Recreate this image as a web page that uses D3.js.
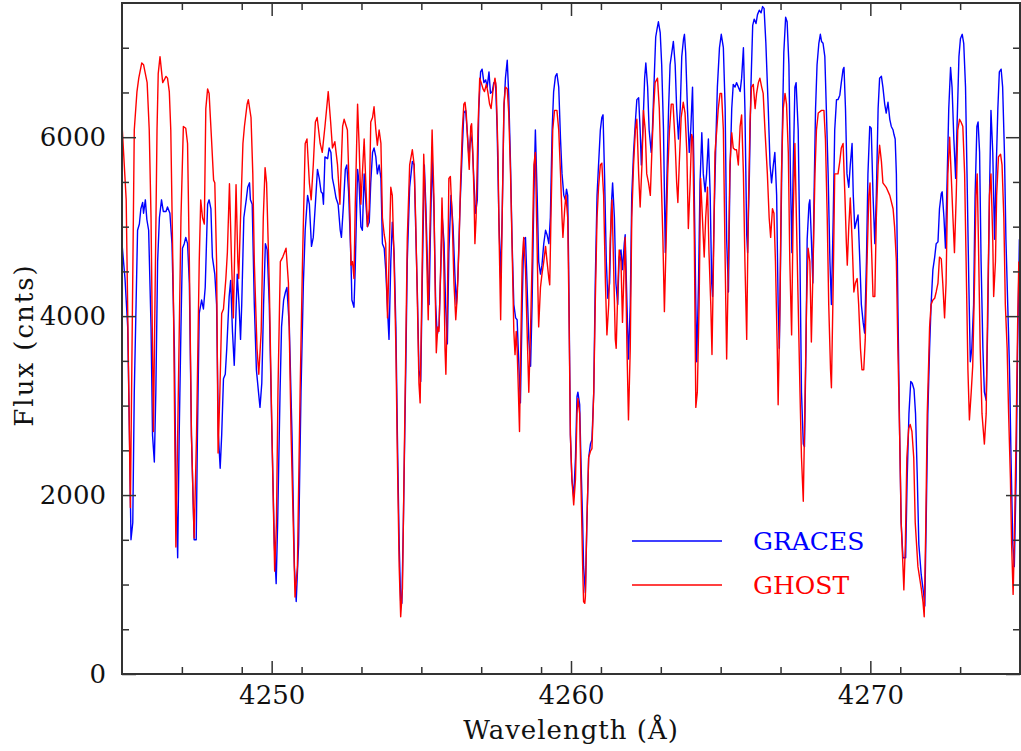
<!DOCTYPE html>
<html>
<head>
<meta charset="utf-8">
<script src="https://cdn.jsdelivr.net/npm/d3@7"></script>
<style>
body { margin: 0; background: #fff; }
svg text { font-family: "DejaVu Serif", serif; }
</style>
</head>
<body>
<div id="chart"></div>
<script>
// wavelength (A), flux (cnts)
var graces = [
[4245.00,4810],[4245.10,4420],[4245.19,3880],[4245.25,2670],[4245.30,1500],[4245.36,1690],[4245.41,3150],[4245.47,4130],[4245.52,4960],[4245.58,5030],[4245.63,5200],[4245.69,5270],[4245.72,5150],[4245.78,5300],[4245.83,5080],[4245.89,4960],[4245.97,3880],[4246.02,2670],[4246.08,2370],[4246.13,3150],[4246.19,4610],[4246.25,5100],[4246.32,5300],[4246.38,5170],[4246.47,5170],[4246.52,5220],[4246.60,5150],[4246.67,4810],[4246.75,3640],[4246.80,2180],[4246.86,1300],[4246.91,2670],[4246.97,3880],[4247.02,4760],[4247.08,4810],[4247.13,4880],[4247.19,4810],[4247.25,4370],[4247.32,2670],[4247.41,1500],[4247.48,1500],[4247.52,2670],[4247.58,4030],[4247.66,4180],[4247.72,4080],[4247.78,4320],[4247.86,5250],[4247.91,5300],[4247.97,5200],[4248.02,4660],[4248.10,4470],[4248.16,4130],[4248.22,2670],[4248.28,2300],[4248.33,2670],[4248.39,3300],[4248.45,3350],[4248.50,3640],[4248.58,4220],[4248.63,4400],[4248.69,3830],[4248.75,3450],
[4248.85,4470],[4248.91,4130],[4248.96,3740],[4249.00,4130],[4249.07,5100],[4249.15,5300],[4249.20,5440],[4249.26,5490],[4249.29,5300],[4249.35,5250],[4249.42,4130],[4249.49,3400],[4249.56,3150],[4249.61,2980],[4249.67,3250],[4249.73,4130],[4249.79,4810],[4249.85,4740],[4249.92,4130],[4250.01,2670],[4250.09,1450],[4250.15,1010],[4250.20,1690],[4250.28,3150],[4250.33,3880],[4250.40,4180],[4250.46,4270],[4250.51,4320],[4250.59,3880],[4250.68,2670],[4250.76,1200],[4250.82,810],[4250.90,1450],[4250.98,3150],[4251.06,4370],[4251.12,4960],[4251.20,5350],[4251.26,5250],[4251.33,4780],[4251.39,4880],[4251.46,5250],[4251.53,5640],[4251.59,5540],[4251.65,5390],[4251.70,5370],[4251.73,5250],[4251.78,5780],[4251.87,5760],[4251.92,5880],[4251.98,5830],[4252.03,5540],[4252.09,5440],[4252.15,5320],[4252.22,5250],[4252.29,4960],[4252.33,4880],[4252.40,5250],[4252.46,5640],[4252.51,5690],[4252.57,5390],[4252.65,4610],
[4252.68,4180],[4252.75,4100],[4252.79,4520],[4252.87,5640],[4252.92,5490],[4252.98,5000],[4253.03,4960],[4253.09,5590],[4253.15,5250],[4253.20,5000],[4253.26,5050],[4253.31,5490],[4253.37,5830],[4253.42,5880],[4253.48,5780],[4253.53,5590],[4253.59,5690],[4253.65,5540],[4253.70,4810],[4253.76,4760],[4253.81,4520],[4253.87,4080],[4253.92,3740],[4253.98,4610],[4254.03,5050],[4254.09,4710],[4254.15,3880],[4254.20,2670],[4254.26,1450],[4254.31,810],[4254.35,790],[4254.40,1690],[4254.48,3400],[4254.53,4610],[4254.61,5440],[4254.70,5730],[4254.76,5690],[4254.81,5000],[4254.87,4220],[4254.92,3400],[4254.98,3270],[4255.03,4370],[4255.10,5690],[4255.15,5250],[4255.21,4520],[4255.26,4130],[4255.30,4860],[4255.36,5780],[4255.42,5200],[4255.48,4130],[4255.53,3790],[4255.59,3880],[4255.65,4520],[4255.70,5100],[4255.76,4810],[4255.81,4130],[4255.87,3690],[4255.92,4710],[4255.99,5350],[4256.06,5000],[4256.12,4470],[4256.17,4130],[4256.22,4420],[4256.29,5200],[4256.37,5880],[4256.42,6270],[4256.48,6300],[4256.53,6080],[4256.59,5780],
[4256.65,6030],[4256.70,5930],[4256.76,5490],[4256.81,5150],[4256.87,5300],[4256.92,6320],[4256.98,6730],[4257.03,6760],[4257.09,6610],[4257.15,6640],[4257.20,6560],[4257.26,6730],[4257.31,6490],[4257.37,6510],[4257.42,6610],[4257.48,6610],[4257.53,6120],[4257.59,5100],[4257.65,4420],[4257.70,5100],[4257.76,6320],[4257.81,6660],[4257.87,6860],[4257.92,6470],[4257.98,5690],[4258.03,4860],[4258.09,4130],[4258.15,3980],[4258.20,3960],[4258.26,3440],[4258.31,3030],[4258.37,4130],[4258.42,4860],[4258.48,4880],[4258.53,4370],[4258.59,3740],[4258.65,3440],[4258.70,4130],[4258.76,5350],[4258.81,6080],[4258.87,5350],[4258.92,4610],[4258.98,4470],[4259.03,4570],[4259.09,4810],[4259.15,4960],[4259.20,4910],[4259.26,4810],[4259.31,5100],[4259.37,6080],[4259.42,6510],[4259.48,6680],[4259.53,6710],[4259.59,6560],[4259.65,5980],[4259.70,5590],[4259.76,5350],[4259.81,5300],[4259.85,5420],[4259.89,5350],[4259.92,4610],[4259.98,2670],[4260.03,2180],[4260.09,1980],[4260.15,2420],[4260.20,3100],[4260.23,3150],[4260.29,3010],[4260.33,2420],[4260.39,1690],
[4260.42,1200],[4260.48,910],[4260.53,1690],[4260.59,2420],[4260.65,2570],[4260.70,2620],[4260.76,3150],[4260.81,4370],[4260.87,5350],[4260.92,5690],[4260.98,6080],[4261.03,6220],[4261.07,6250],[4261.12,5590],[4261.18,4610],[4261.23,4200],[4261.29,4370],[4261.35,5250],[4261.39,5490],[4261.45,5100],[4261.50,4370],[4261.56,4130],[4261.61,4660],[4261.67,4740],[4261.72,4520],[4261.78,4810],[4261.81,4910],[4261.87,4130],[4261.92,3520],[4261.98,4130],[4262.03,5350],[4262.09,5830],[4262.15,6170],[4262.20,6420],[4262.26,6440],[4262.31,6080],[4262.35,5690],[4262.40,6080],[4262.46,6660],[4262.50,6830],[4262.56,6560],[4262.61,6080],[4262.68,5830],[4262.72,6080],[4262.78,6660],[4262.83,7120],[4262.88,7220],[4262.92,7290],[4262.98,7170],[4263.03,6810],[4263.09,6080],[4263.15,4710],[4263.20,5490],[4263.26,6320],[4263.31,6810],[4263.37,6950],[4263.42,7070],[4263.48,6810],[4263.53,6320],[4263.59,5980],[4263.65,6320],[4263.70,6900],[4263.76,7100],[4263.79,7150],[4263.83,6950],[4263.89,6320],[4263.95,5830],[4264.00,6080],[4264.06,6560],[4264.11,5590],[4264.17,4130],[4264.20,3490],
[4264.26,4370],[4264.31,5490],[4264.37,6050],[4264.42,5590],[4264.48,5390],[4264.53,5590],[4264.59,5980],[4264.65,5350],[4264.70,4370],[4264.73,4220],[4264.78,5100],[4264.85,6080],[4264.89,6560],[4264.96,7000],[4265.02,7150],[4265.09,7000],[4265.15,6320],[4265.20,4860],[4265.26,4270],[4265.31,5590],[4265.37,6320],[4265.42,6590],[4265.48,6560],[4265.53,6610],[4265.59,6560],[4265.65,6510],[4265.70,6660],[4265.76,7000],[4265.81,6320],[4265.87,4910],[4265.90,4710],[4265.96,5590],[4266.01,6560],[4266.07,7250],[4266.12,7320],[4266.18,7270],[4266.23,7370],[4266.29,7420],[4266.35,7390],[4266.40,7460],[4266.45,7440],[4266.51,7050],[4266.59,6320],[4266.65,5690],[4266.70,5490],[4266.76,5690],[4266.81,5830],[4266.87,5350],[4266.92,4130],[4266.96,3640],[4267.00,4610],[4267.06,6080],[4267.11,6950],[4267.17,7340],[4267.22,7290],[4267.28,6810],[4267.33,5590],[4267.38,4710],[4267.42,5590],[4267.48,6560],[4267.52,6610],[4267.59,6080],[4267.65,4610],[4267.70,3150],[4267.76,2570],[4267.80,2540],[4267.85,3640],[4267.89,4860],[4267.95,5250],
[4267.98,5300],[4268.03,4860],[4268.08,4370],[4268.12,5350],[4268.17,6320],[4268.22,6810],[4268.28,7050],[4268.33,7150],[4268.37,7070],[4268.42,7050],[4268.48,6900],[4268.53,6320],[4268.59,5590],[4268.65,4610],[4268.70,4130],[4268.76,5100],[4268.81,6080],[4268.87,6420],[4268.92,6420],[4268.98,6470],[4269.03,6610],[4269.09,6760],[4269.12,6780],[4269.17,6320],[4269.22,5590],[4269.28,5440],[4269.33,5690],[4269.39,5930],[4269.43,5350],[4269.48,4980],[4269.53,5050],[4269.59,5130],[4269.65,4610],[4269.70,4130],[4269.76,3930],[4269.81,3810],[4269.87,4610],[4269.92,5590],[4269.98,6120],[4270.03,6100],[4270.09,5350],[4270.15,4810],[4270.20,5350],[4270.26,6320],[4270.31,6660],[4270.37,6680],[4270.42,6560],[4270.48,6370],[4270.53,6270],[4270.59,6390],[4270.65,6200],[4270.70,6120],[4270.76,6080],[4270.79,6030],[4270.83,5980],[4270.87,5590],[4270.92,4130],[4270.98,2670],[4271.03,1690],[4271.09,1300],[4271.18,1300],[4271.23,2180],[4271.29,2910],[4271.35,3270],[4271.40,3250],[4271.46,3180],[4271.51,2910],[4271.57,2180],[4271.62,1450],[4271.70,1110],[4271.78,900],[4271.82,760],[4271.87,1800],[4271.92,2900],
[4271.98,3640],[4272.03,4130],[4272.09,4520],[4272.15,4660],[4272.20,4810],[4272.26,4830],[4272.31,5200],[4272.37,5370],[4272.40,5390],[4272.46,5100],[4272.51,4760],[4272.57,5590],[4272.62,6320],[4272.68,6780],[4272.73,6560],[4272.79,5980],[4272.85,5540],[4272.90,6170],[4272.96,6900],[4273.01,7100],[4273.07,7150],[4273.12,7050],[4273.18,6560],[4273.23,5590],[4273.29,4370],[4273.34,3490],[4273.39,3640],[4273.45,4130],[4273.50,5350],[4273.56,6120],[4273.60,6170],[4273.65,5830],[4273.70,4610],[4273.76,3640],[4273.81,3150],[4273.87,3060],[4273.92,3880],[4273.98,5350],[4274.03,6300],[4274.09,5830],[4274.15,4860],[4274.20,5590],[4274.26,6320],[4274.31,6730],[4274.37,6760],[4274.42,6560],[4274.48,5830],[4274.53,4860],[4274.59,4130],[4274.65,3400],[4274.70,2420],[4274.76,1450],[4274.81,1200],[4274.87,2180],[4274.92,3640],[4274.98,4860]
];

var ghost = [
[4245.00,6150],[4245.14,5300],[4245.28,1860],[4245.41,6080],[4245.50,6510],[4245.56,6660],[4245.66,6830],[4245.72,6810],[4245.84,6610],[4245.91,6080],[4245.97,5100],[4246.05,2710],[4246.17,6080],[4246.21,6710],[4246.27,6900],[4246.36,6610],[4246.41,6640],[4246.47,6680],[4246.52,6660],[4246.58,6510],[4246.63,6080],[4246.72,4130],[4246.80,1420],[4246.86,2670],[4246.97,5100],[4247.05,6120],[4247.13,6100],[4247.19,5930],[4247.25,4610],[4247.32,2670],[4247.41,1520],[4247.49,2670],[4247.58,4610],[4247.63,5300],[4247.69,5100],[4247.75,5030],[4247.80,6320],[4247.86,6540],[4247.91,6490],[4247.99,5980],[4248.06,5520],[4248.10,5490],[4248.16,4610],[4248.21,2470],[4248.27,3150],[4248.33,4030],[4248.39,4080],[4248.47,4420],[4248.52,4710],[4248.59,5480],[4248.66,4610],[4248.72,3980],
[4248.81,5470],[4248.87,4610],[4248.90,4420],[4248.96,5100],[4249.04,5930],[4249.09,6120],[4249.18,6370],[4249.22,6420],[4249.31,6220],[4249.37,5590],[4249.42,4610],[4249.51,3640],[4249.57,3350],[4249.65,3830],[4249.72,5100],[4249.78,5660],[4249.83,5490],[4249.92,4370],[4250.01,2670],[4250.10,1150],[4250.16,1690],[4250.21,3150],[4250.29,4610],[4250.37,4660],[4250.48,4760],[4250.56,4370],[4250.65,2670],[4250.78,860],[4250.86,1200],[4250.95,3150],[4251.03,4610],[4251.12,5930],[4251.18,5980],[4251.26,5490],[4251.32,5300],[4251.39,5690],[4251.46,6170],[4251.52,6220],[4251.62,5930],[4251.69,5830],[4251.78,6120],[4251.89,6510],[4251.97,6170],[4252.03,5880],[4252.11,5950],[4252.20,5690],[4252.28,5250],[4252.37,6120],[4252.42,6200],[4252.53,6080],[4252.62,5100],
[4252.65,4570],[4252.70,4610],[4252.75,4420],[4252.79,5200],[4252.87,6370],[4252.92,5930],[4252.98,5250],[4253.03,5590],[4253.09,5980],[4253.15,5440],[4253.20,5000],[4253.26,5200],[4253.31,6170],[4253.37,6220],[4253.42,6340],[4253.48,6080],[4253.53,5910],[4253.59,6080],[4253.65,5930],[4253.70,5100],[4253.76,4910],[4253.81,4810],[4253.87,3980],[4253.92,4610],[4253.98,5440],[4254.03,5350],[4254.09,4610],[4254.15,3640],[4254.20,2420],[4254.26,1200],[4254.31,640],[4254.37,960],[4254.42,2180],[4254.48,3640],[4254.53,4860],[4254.61,5690],[4254.70,5860],[4254.76,5690],[4254.81,5100],[4254.87,4130],[4254.92,3250],[4254.96,3030],[4255.01,4130],[4255.08,5810],[4255.15,5100],[4255.20,4370],[4255.23,3960],[4255.28,4860],[4255.36,6080],[4255.42,5350],[4255.46,4370],[4255.50,3590],[4255.55,3880],[4255.59,3830],[4255.65,4610],[4255.69,5320],[4255.75,4610],[4255.79,3640],[4255.82,3350],[4255.87,4130],[4255.92,5540],[4255.97,5560],[4256.03,5100],[4256.09,4370],[4256.15,3960],[4256.20,4220],[4256.26,4810],[4256.31,5490],[4256.37,6080],[4256.42,6370],[4256.46,6390],[4256.50,6270],[4256.56,5880],
[4256.60,5640],[4256.65,6120],[4256.68,6150],[4256.72,5830],[4256.76,5350],[4256.79,4810],[4256.83,5100],[4256.89,6080],[4256.95,6660],[4257.00,6610],[4257.06,6540],[4257.11,6510],[4257.17,6590],[4257.22,6510],[4257.28,6370],[4257.33,6320],[4257.39,6510],[4257.46,6660],[4257.50,6560],[4257.56,5830],[4257.60,4860],[4257.65,3960],[4257.70,5100],[4257.76,6370],[4257.81,6560],[4257.87,6540],[4257.92,6270],[4257.98,5590],[4258.03,4810],[4258.09,3830],[4258.13,3570],[4258.17,3830],[4258.20,3640],[4258.23,3300],[4258.28,2710],[4258.32,3640],[4258.37,4610],[4258.42,4880],[4258.48,4520],[4258.53,3880],[4258.59,3150],[4258.65,3880],[4258.70,4610],[4258.76,5690],[4258.81,5830],[4258.85,5100],[4258.89,4370],[4258.92,3880],[4258.98,4320],[4259.03,4470],[4259.09,4610],[4259.15,4780],[4259.20,4610],[4259.26,4420],[4259.29,4350],[4259.33,5100],[4259.39,6080],[4259.45,6300],[4259.53,6300],[4259.59,6080],[4259.65,5590],[4259.70,5100],[4259.73,4880],[4259.79,5200],[4259.83,5350],[4259.89,5100],[4259.93,4130],[4259.98,2670],[4260.03,2180],[4260.09,1890],[4260.15,2180],[4260.20,2910],[4260.23,3080],[4260.29,2910],[4260.33,2180],[4260.39,1200],
[4260.42,810],[4260.46,790],[4260.48,860],[4260.53,1690],[4260.59,2420],[4260.65,2490],[4260.70,2520],[4260.76,3150],[4260.81,4130],[4260.87,5100],[4260.92,5440],[4260.98,5690],[4261.03,5710],[4261.09,5350],[4261.15,4370],[4261.20,3790],[4261.26,4130],[4261.31,4860],[4261.37,5300],[4261.42,4610],[4261.48,3740],[4261.51,3640],[4261.57,4370],[4261.61,4740],[4261.67,4610],[4261.72,3930],[4261.78,4610],[4261.81,4880],[4261.87,3640],[4261.92,2840],[4261.98,3640],[4262.03,5100],[4262.09,5690],[4262.15,6080],[4262.20,6200],[4262.26,5590],[4262.31,5220],[4262.37,5690],[4262.42,6300],[4262.48,6080],[4262.53,5590],[4262.59,5490],[4262.65,5350],[4262.70,5830],[4262.76,6320],[4262.81,6610],[4262.89,6660],[4262.95,6320],[4263.01,5590],[4263.07,4860],[4263.12,4050],[4263.18,4860],[4263.23,5590],[4263.29,6080],[4263.35,6370],[4263.41,6370],[4263.48,5930],[4263.53,5490],[4263.57,5270],[4263.62,5730],[4263.68,6220],[4263.75,6390],[4263.81,6270],[4263.87,5830],[4263.92,4980],[4263.98,5490],[4264.03,6030],[4264.07,5980],[4264.12,4860],[4264.17,2980],[4264.22,3150],
[4264.28,4130],[4264.33,5540],[4264.39,5100],[4264.45,4660],[4264.50,5100],[4264.56,5440],[4264.61,4710],[4264.67,4130],[4264.71,3570],[4264.76,4610],[4264.81,5830],[4264.87,6080],[4264.92,6320],[4264.98,6490],[4265.03,6490],[4265.09,6080],[4265.15,4610],[4265.20,3520],[4265.26,4610],[4265.31,5690],[4265.37,6050],[4265.42,5880],[4265.48,5860],[4265.53,5860],[4265.59,5690],[4265.65,6120],[4265.70,6250],[4265.76,5590],[4265.81,4610],[4265.87,3740],[4265.92,5100],[4265.98,6170],[4266.03,6560],[4266.09,6590],[4266.15,6320],[4266.20,6490],[4266.26,6610],[4266.31,6660],[4266.37,6560],[4266.42,6490],[4266.48,6080],[4266.56,5590],[4266.62,5100],[4266.67,4880],[4266.73,5200],[4266.78,5150],[4266.83,4610],[4266.89,3640],[4266.92,3010],[4266.98,4130],[4267.03,5590],[4267.09,6320],[4267.15,6490],[4267.20,6370],[4267.26,5830],[4267.31,4610],[4267.37,3790],[4267.42,5100],[4267.48,5930],[4267.53,5100],[4267.59,4130],[4267.65,3150],[4267.70,2420],[4267.76,1930],[4267.81,2910],[4267.87,4130],[4267.92,4760],[4267.98,4610],
[4268.03,3710],[4268.09,4610],[4268.15,5590],[4268.20,6080],[4268.26,6270],[4268.37,6300],[4268.45,6300],[4268.50,5980],[4268.56,5100],[4268.61,4130],[4268.67,3400],[4268.70,3200],[4268.76,4370],[4268.81,5590],[4268.92,5590],[4268.98,5730],[4269.03,5880],[4269.09,5930],[4269.15,5350],[4269.20,4810],[4269.23,4570],[4269.28,5000],[4269.33,5320],[4269.39,4860],[4269.45,4270],[4269.50,4370],[4269.56,4420],[4269.61,4130],[4269.67,3640],[4269.72,3400],[4269.78,3400],[4269.83,3740],[4269.89,4610],[4269.95,5350],[4269.99,5490],[4270.03,4860],[4270.09,4220],[4270.15,4220],[4270.20,5100],[4270.26,5690],[4270.31,5910],[4270.37,5730],[4270.42,5490],[4270.53,5440],[4270.65,5350],[4270.76,5200],[4270.81,5000],[4270.87,4610],[4270.92,3640],[4270.98,2670],[4271.03,1690],[4271.09,1200],[4271.12,940],[4271.17,1450],[4271.22,2420],[4271.28,2740],[4271.33,2790],[4271.39,2710],[4271.45,2420],[4271.50,1690],[4271.59,1200],[4271.70,960],[4271.76,800],[4271.80,640],[4271.85,1600],[4271.90,2900],[4271.95,3500],
[4271.98,3880],[4272.03,4130],[4272.09,4180],[4272.15,4200],[4272.20,4270],[4272.26,4370],[4272.31,4660],[4272.37,4640],[4272.42,4370],[4272.48,3980],[4272.53,4370],[4272.59,5590],[4272.65,6000],[4272.70,5590],[4272.76,5100],[4272.81,4710],[4272.87,5350],[4272.92,6080],[4272.98,6200],[4273.03,6170],[4273.09,6120],[4273.15,5590],[4273.20,4610],[4273.26,3400],[4273.31,2840],[4273.37,3150],[4273.42,3440],[4273.48,4370],[4273.53,5350],[4273.57,5590],[4273.61,4860],[4273.67,3640],[4273.73,2910],[4273.81,2570],[4273.87,2910],[4273.92,4130],[4273.98,5350],[4274.03,5590],[4274.09,4860],[4274.12,4220],[4274.18,4610],[4274.22,5350],[4274.28,5780],[4274.35,5810],[4274.40,5690],[4274.46,5100],[4274.51,4130],[4274.57,3640],[4274.62,2910],[4274.68,2180],[4274.72,1450],[4274.77,890],[4274.81,1450],[4274.87,2670],[4274.92,3880],[4274.96,4610]
];

var xMajor = [4250, 4260, 4270];
var xMinor = [4247, 4249, 4251, 4253, 4255, 4257, 4259, 4261, 4263, 4265, 4267, 4269, 4271, 4273];
var yMajor = [0, 2000, 4000, 6000];
var yMinor = [500, 1000, 1500, 2500, 3000, 3500, 4500, 5000, 5500, 6500, 7000];
var seriesNames = ["GRACES", "GHOST"];
var seriesColors = ["#0000ff", "#ff0000"];

var W = 1021, H = 751;
var pLeft = 122, pRight = 1020, pTop = 3, pBottom = 674;

var svg = d3.select("#chart").append("svg")
	.attr("width", W)
	.attr("height", H);

var xScale = d3.scaleLinear()
	.domain([4245, 4275])
	.range([pLeft, pRight]);
var yScale = d3.scaleLinear()
	.domain([0, 7500])
	.range([pBottom, pTop]);

svg.append("clipPath").attr("id", "plotclip")
	.append("rect")
	.attr("x", pLeft).attr("y", pTop)
	.attr("width", pRight - pLeft).attr("height", pBottom - pTop);

var line = d3.line()
	.x(function(d) { return xScale(d[0]); })
	.y(function(d) { return yScale(d[1]); });

var plot = svg.append("g").attr("clip-path", "url(#plotclip)");
[graces, ghost].forEach(function(s, i) {
	plot.append("path")
		.datum(s)
		.attr("fill", "none")
		.attr("stroke", seriesColors[i])
		.attr("stroke-width", 1.4)
		.attr("stroke-linejoin", "round")
		.attr("d", line);
});

// ticks point inward on all four sides
function addAxis(axis, tx, ty) {
	var g = svg.append("g")
		.attr("transform", "translate(" + tx + "," + ty + ")")
		.call(axis);
	g.select(".domain").remove();
	g.selectAll(".tick line").attr("stroke", "#333").attr("stroke-width", 1.5);
	g.selectAll("text")
		.attr("fill", "#111")
		.style("font-family", "'DejaVu Serif', serif")
		.style("font-size", "26px");
	return g;
}

addAxis(d3.axisBottom(xScale).tickValues(xMajor).tickSizeInner(-13).tickSizeOuter(0).tickPadding(12).tickFormat(d3.format("d")), 0, pBottom);
addAxis(d3.axisBottom(xScale).tickValues(xMinor).tickSizeInner(-7).tickSizeOuter(0).tickFormat(""), 0, pBottom);
addAxis(d3.axisTop(xScale).tickValues(xMajor).tickSizeInner(-13).tickSizeOuter(0).tickFormat(""), 0, pTop);
addAxis(d3.axisTop(xScale).tickValues(xMinor).tickSizeInner(-7).tickSizeOuter(0).tickFormat(""), 0, pTop);

addAxis(d3.axisLeft(yScale).tickValues(yMajor).tickSizeInner(-14).tickSizeOuter(0).tickPadding(16).tickFormat(d3.format("d")), pLeft, 0);
addAxis(d3.axisLeft(yScale).tickValues(yMinor).tickSizeInner(-7).tickSizeOuter(0).tickFormat(""), pLeft, 0);
addAxis(d3.axisRight(yScale).tickValues(yMajor).tickSizeInner(-14).tickSizeOuter(0).tickFormat(""), pRight, 0);
addAxis(d3.axisRight(yScale).tickValues(yMinor).tickSizeInner(-7).tickSizeOuter(0).tickFormat(""), pRight, 0);

svg.append("rect")
	.attr("x", pLeft).attr("y", pTop)
	.attr("width", pRight - pLeft).attr("height", pBottom - pTop)
	.attr("fill", "none")
	.attr("stroke", "#333")
	.attr("stroke-width", 2);

svg.append("text")
	.attr("x", (pLeft + pRight) / 2)
	.attr("y", 739)
	.attr("text-anchor", "middle")
	.attr("fill", "#111")
	.style("font-size", "26px")
	.style("letter-spacing", "1px")
	.text("Wavelength (Å)");

svg.append("text")
	.attr("transform", "translate(33,345) rotate(-90)")
	.attr("text-anchor", "middle")
	.attr("fill", "#111")
	.style("font-size", "26px")
	.style("letter-spacing", "2px")
	.text("Flux (cnts)");

var legend = svg.append("g");
seriesNames.forEach(function(name, i) {
	var ly = 541 + i * 44;
	legend.append("line")
		.attr("x1", 632).attr("x2", 722)
		.attr("y1", ly).attr("y2", ly)
		.attr("stroke", seriesColors[i])
		.attr("stroke-width", 1.4);
	legend.append("text")
		.attr("x", 753)
		.attr("y", ly + 9)
		.attr("fill", seriesColors[i])
		.style("font-size", "25px")
		.text(name);
});
</script>
</body>
</html>
